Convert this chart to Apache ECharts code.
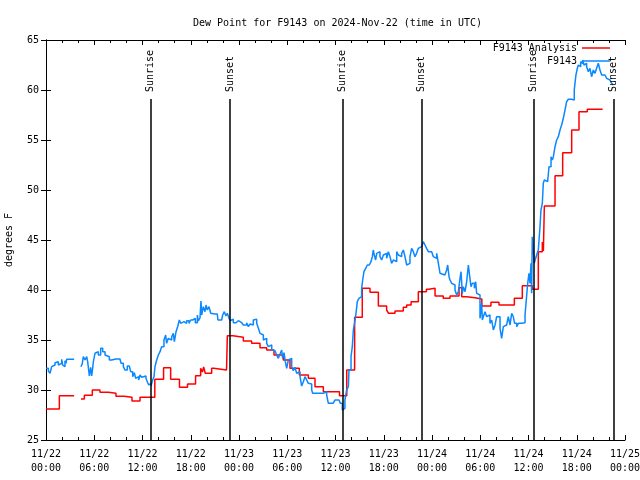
<!DOCTYPE html>
<html><head><meta charset="utf-8">
<script src="https://cdn.jsdelivr.net/npm/echarts@6/dist/echarts.min.js"></script>
<style>html,body{margin:0;padding:0;background:#fff}#c{width:640px;height:480px}</style>
</head><body><div id="c"></div>
<script>
// ---- data (time in hours since 2024-11-22 00:00 UTC) ----
const xTickLabels = ['11/22\n00:00','11/22\n06:00','11/22\n12:00','11/22\n18:00',
  '11/23\n00:00','11/23\n06:00','11/23\n12:00','11/23\n18:00',
  '11/24\n00:00','11/24\n06:00','11/24\n12:00','11/24\n18:00','11/25\n00:00'];

const sunNames = ['Sunrise','Sunset','Sunrise','Sunset','Sunrise','Sunset'];
const sunTimes = [12.97, 22.88, 36.85, 46.67, 60.6, 70.55];

const redT = [0,1.66,2.65,3.5,
  4.35,4.77,5.76,6.71,7.75,8.70,9.70,10.69,11.69,13.53,14.62,15.5,16.6,17.6,18.6,19.23,19.45,19.6,19.8,20.6,20.85,22.45,22.55,
  23.25,24.54,25.57,26.61,27.44,28.35,29.51,30.34,31.5,32.62,33.45,34.49,36.5,37.4,38.38,39.33,40.29,41.33,42.36,42.6,43.4,
  44.43,44.85,45.4,46.3,47.3,47.6,48.38,49.4,50.24,51.36,51.7,52.31,53.35,54.2,55.33,56.33,58.24,59.23,60.47,61.22,61.72,
  61.85,61.97,63.3,64.25,65.37,66.28,67.31,69.22];
const redV = [28.1,29.43,29.43,null,
  29.1,29.47,30.0,29.77,29.67,29.37,29.27,28.9,29.27,31.07,32.23,31.07,30.27,30.6,31.43,32.17,31.8,32.3,31.67,32.17,32.0,32.1,35.43,
  35.27,34.9,34.67,34.23,34.0,33.5,33.0,32.17,31.5,31.17,30.33,29.83,29.43,32.0,37.27,40.17,39.77,38.4,38.0,37.67,37.9,
  38.27,38.5,38.83,39.83,40.07,40.17,39.4,39.17,39.4,40.23,39.33,39.23,39.1,38.4,38.77,38.5,39.17,40.43,40.07,43.83,44.8,
  43.9,48.4,51.43,53.73,56.0,57.83,58.07,58.07];

const blueT = [0.02,0.29,0.50,0.70,0.83,1.12,1.33,1.53,1.74,1.95,2.07,2.16,2.36,2.49,2.57,2.65,3.5,
  4.35,4.50,4.64,4.85,5.06,5.18,5.39,5.55,5.68,5.80,5.89,6.09,6.30,6.51,6.80,7.05,7.34,7.54,7.88,8.17,8.7,9.20,9.33,9.62,9.82,
  10.11,10.36,10.53,10.78,10.98,11.15,11.36,11.52,11.69,11.89,12.10,12.43,12.60,12.77,12.93,13.06,13.26,13.43,13.55,13.76,13.97,
  14.18,14.38,14.67,14.88,15.00,15.21,15.42,15.63,15.83,15.96,16.17,16.37,16.58,16.75,16.99,17.16,17.49,17.78,17.99,18.24,18.40,
  18.57,18.82,18.94,19.15,19.27,19.36,19.56,19.77,19.90,20.06,20.27,20.48,20.72,21.0,21.30,21.38,21.84,21.97,22.17,22.38,22.55,
  22.76,22.88,23.09,23.29,23.63,23.92,24.33,24.54,24.95,25.16,25.37,25.58,25.78,25.99,26.20,26.41,26.61,26.82,27.03,27.24,27.44,
  27.65,27.86,28.07,28.27,28.48,28.68,28.89,29.10,29.31,29.43,29.60,29.76,29.93,30.13,30.34,30.55,30.75,30.96,31.17,31.38,31.59,
  31.79,32.00,32.21,32.42,32.62,32.83,33.04,33.16,33.66,34.49,34.70,34.90,35.11,35.7,35.94,36.44,36.6,36.85,37.0,37.17,37.39,
  37.60,37.68,37.80,37.93,38.09,38.22,38.43,38.55,38.71,38.92,39.09,39.25,39.38,39.54,39.75,39.96,40.21,40.41,40.58,40.70,40.82,
  40.99,41.12,41.33,41.53,41.74,41.95,42.15,42.36,42.57,42.78,42.98,43.19,43.40,43.61,43.81,44.02,44.23,44.44,44.64,44.85,45.06,
  45.26,45.47,45.68,45.88,46.09,46.30,46.50,46.71,46.92,47.13,47.33,47.55,47.75,47.96,48.17,48.38,48.58,48.79,49.0,49.2,49.6,
  49.82,49.95,50.12,50.24,50.45,50.65,50.86,51.07,51.28,51.48,51.61,51.77,51.90,52.11,52.31,52.52,52.69,52.85,53.02,53.27,53.43,
  53.55,53.76,53.97,54.18,54.26,54.38,54.59,54.80,55.0,55.21,55.42,55.63,55.84,56.04,56.25,56.46,56.66,56.87,57.08,57.28,57.49,
  57.70,57.91,58.11,58.27,58.53,58.74,59.15,59.36,59.57,59.69,59.90,60.06,60.19,60.31,60.39,60.47,60.60,60.72,60.89,61.01,61.22,
  61.43,61.55,61.72,61.84,61.97,62.13,62.38,62.55,62.80,62.96,63.09,63.30,63.50,63.71,63.92,64.12,64.33,64.54,64.74,64.95,65.37,
  65.57,65.69,65.78,65.90,66.07,66.20,66.32,66.49,66.61,66.74,66.90,67.02,67.23,67.44,67.64,67.85,68.06,68.27,68.47,68.68,68.89,
  69.10,69.30,69.51,69.72,69.93,70.13,70.34,70.55];
const blueV = [32.17,31.9,31.67,32.33,32.5,32.73,32.83,32.5,32.67,33.07,32.5,32.33,32.93,32.67,33.07,33.07,null,
  32.33,32.6,33.33,33.0,33.33,32.83,31.4,32.27,31.4,32.17,32.83,33.67,33.83,33.5,34.17,33.83,33.5,33.33,33.0,33.1,33.1,33.1,32.67,32.33,32.0,
  32.4,32.27,31.83,31.33,31.73,31.17,31.33,31.0,31.5,31.27,31.4,31.17,30.83,30.5,30.67,30.4,31.0,31.33,32.33,33.0,33.5,
  33.83,34.33,35.0,35.5,34.67,35.17,35.0,35.33,35.67,34.83,35.83,36.33,37.0,36.67,36.83,36.67,36.93,36.67,37.0,36.83,37.17,
  36.73,37.5,36.9,37.2,38.9,37.5,38.33,37.83,38.5,38.0,38.33,37.67,37.6,37.6,37.5,37.0,37.0,37.5,37.83,37.4,37.67,
  37.17,36.93,37.07,36.73,36.93,36.73,36.73,36.5,36.73,36.33,36.6,36.5,37.0,37.07,36.67,36.17,35.67,35.5,35.0,35.17,34.67,
  34.33,34.5,34.0,33.93,33.83,33.5,33.17,33.6,34.0,33.17,33.73,32.83,32.17,33.0,33.17,32.33,31.93,32.27,31.67,31.83,31.33,
  30.4,30.83,31.33,31.0,30.67,30.6,30.0,29.67,29.67,29.67,29.83,29.5,28.67,28.67,29.0,29.0,28.67,28.0,28.17,29.0,30.0,
  30.33,32.0,32.0,33.33,34.33,36.0,37.0,37.67,38.83,39.17,39.33,40.17,41.0,41.83,42.17,42.5,42.5,42.83,43.33,44.0,43.5,
  43.0,43.67,43.83,43.33,43.0,43.5,43.67,43.17,43.83,43.33,42.67,43.0,42.83,43.83,43.5,43.33,43.67,44.0,43.33,42.5,42.67,
  43.33,44.17,43.83,43.33,43.67,44.17,44.33,44.17,44.83,44.5,44.17,43.83,43.83,43.67,43.33,43.17,43.67,42.67,41.67,41.5,41.5,
  42.0,42.5,41.33,41.0,40.67,40.5,40.0,39.5,39.83,41.17,41.83,39.67,40.33,39.83,40.83,42.5,41.33,40.33,40.67,40.17,40.83,
  39.67,39.5,37.17,38.67,37.0,37.33,37.83,37.33,37.5,36.67,37.0,36.0,36.5,37.33,37.33,36.17,35.17,36.33,36.5,36.5,37.33,
  36.5,37.67,37.33,36.67,36.33,36.67,36.67,36.73,37.5,38.67,40.67,41.67,40.67,42.67,39.67,45.33,44.0,42.67,43.17,43.5,44.0,
  46.33,48.0,48.67,50.67,51.0,50.83,51.0,52.33,53.33,53.0,53.33,54.33,55.0,55.33,56.0,56.5,57.17,58.0,58.83,59.07,59.07,
  59.0,60.0,60.67,61.5,62.17,62.5,62.33,62.83,62.67,63.0,62.5,62.67,62.33,61.83,62.17,61.33,62.0,61.67,62.17,62.67,62.0,
  61.5,61.5,61.33,61.17,61.0,61.0,60.67,60.5];

// ---- build ----
const FONT = '"DejaVu Sans Mono", "Liberation Mono", monospace';
const pair = (t, v) => t.map((x, i) => [x, v[i]]);
const redData = pair(redT, redV);
const blueData = pair(blueT, blueV);

const markData = [];
sunTimes.forEach((t, i) => {
  markData.push([{coord: [t, 25]}, {coord: [t, 59.1]}]);
  markData.push([{coord: [t, 59.8], lineStyle: {color: 'rgba(0,0,0,0)'},
    label: {show: true, formatter: sunNames[i], position: 'insideStart', distance: 0,
      color: '#000', fontFamily: FONT, fontSize: 10}}, {coord: [t, 64.5]}]);
});

const axisCommon = {
  axisLine: {lineStyle: {color: '#000', width: 1}},
  axisTick: {inside: true, length: 5, lineStyle: {color: '#000'}},
  splitLine: {show: false}
};
const labelStyle = {fontFamily: FONT, fontSize: 10, color: '#000'};

const chart = echarts.init(document.getElementById('c'), null, {renderer: 'canvas'});
chart.setOption({
  animation: false,
  backgroundColor: '#fff',
  title: {text: 'Dew Point for F9143 on 2024-Nov-22 (time in UTC)', left: 188, top: 13,
    textStyle: Object.assign({fontWeight: 'normal'}, labelStyle)},
  legend: [
    {data: ['F9143 Analysis'], right: 30, top: 43, align: 'right', padding: 0,
      icon: 'rect', itemWidth: 28, itemHeight: 1.5, textStyle: labelStyle},
    {data: ['F9143'], right: 30, top: 56, align: 'right', padding: 0,
      icon: 'rect', itemWidth: 28, itemHeight: 1.5, textStyle: labelStyle}
  ],
  grid: {left: 46, right: 15, top: 40, bottom: 40, containLabel: false, outerBoundsMode: 'none'},
  xAxis: [
    Object.assign({type: 'value', min: 0, max: 72, interval: 6, position: 'bottom',
      minorTick: {show: true, splitNumber: 3, length: 3, lineStyle: {color: '#000'}},
      axisLabel: Object.assign({margin: 7, lineHeight: 14,
        formatter: v => xTickLabels[Math.round(v / 6)]}, labelStyle)}, axisCommon),
    Object.assign({type: 'value', min: 0, max: 72, interval: 6, position: 'top',
      minorTick: {show: true, splitNumber: 3, length: 3, lineStyle: {color: '#000'}},
      axisLabel: {show: false}}, axisCommon)
  ],
  yAxis: [
    Object.assign({type: 'value', min: 25, max: 65, interval: 5, position: 'left',
      name: 'degrees F', nameLocation: 'middle', nameGap: 32, nameRotate: 90,
      nameTextStyle: labelStyle,
      axisLabel: Object.assign({margin: 7}, labelStyle)}, axisCommon),
    Object.assign({type: 'value', min: 25, max: 65, interval: 5, position: 'right',
      axisLabel: {show: false}}, axisCommon)
  ],
  series: [
    {name: 'F9143 Analysis', type: 'line', step: 'end', data: redData, showSymbol: false,
      color: '#ff0000', lineStyle: {color: '#ff0000', width: 1.5}, connectNulls: false,
      markLine: {silent: true, symbol: ['none', 'none'], animation: false,
        lineStyle: {color: '#000', width: 1.5, type: 'solid'}, label: {show: false},
        data: markData}},
    {name: 'F9143', type: 'line', step: 'end', data: blueData, showSymbol: false,
      color: '#0a88ff', lineStyle: {color: '#0a88ff', width: 1.5}, connectNulls: false}
  ]
});
</script></body></html>
